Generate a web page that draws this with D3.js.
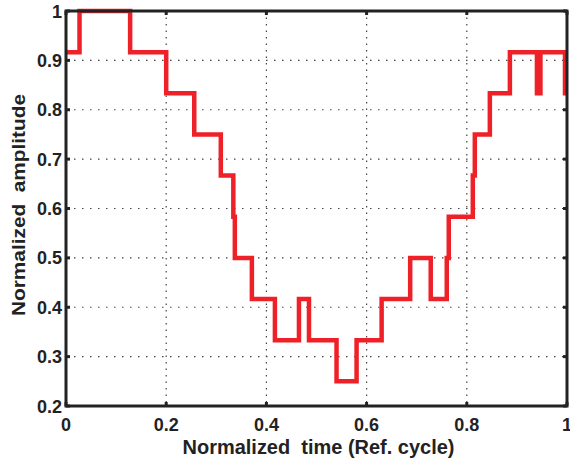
<!DOCTYPE html>
<html><head><meta charset="utf-8">
<script src="https://cdn.jsdelivr.net/npm/d3@7"></script>
<style>body{margin:0;background:#fff}</style>
</head><body>
<svg id="c" width="570" height="460"></svg>
<script>
const times = [0, 0.027, 0.128, 0.200, 0.256, 0.309, 0.334, 0.337, 0.371, 0.417, 0.465, 0.485, 0.540, 0.580, 0.630, 0.687, 0.728, 0.760, 0.764, 0.812, 0.816, 0.846, 0.886, 0.940, 0.947, 0.996, 1.0];
const amplitude = [0.9167, 1.0, 0.9167, 0.8333, 0.75, 0.6667, 0.5833, 0.5, 0.4167, 0.3333, 0.4167, 0.3333, 0.25, 0.3333, 0.4167, 0.5, 0.4167, 0.5, 0.5833, 0.6667, 0.75, 0.8333, 0.9167, 0.8333, 0.9167, 0.8333, 0.8333];
const xTicks = [0, 0.2, 0.4, 0.6, 0.8, 1];
const yTicks = [0.2, 0.3, 0.4, 0.5, 0.6, 0.7, 0.8, 0.9, 1];
const xTitle = "Normalized\u00a0 time (Ref. cycle)";
const yTitle = "Normalized\u00a0 amplitude";

const L = 66, R = 567, T = 11, B = 406;
const svg = d3.select("#c");
const x = d3.scaleLinear().domain([0, 1]).range([L, R]);
const y = d3.scaleLinear().domain([0.2, 1]).range([B, T]);
const fmt = d => d === 0 || d === 1 ? String(d) : d.toFixed(1);

// grid
const g = svg.append("g");
g.selectAll(".gx").data(xTicks.slice(1, -1)).join("line")
  .attr("x1", d => x(d)).attr("x2", d => x(d)).attr("y1", T).attr("y2", B)
  .attr("stroke", "#444").attr("stroke-width", 1.2).attr("stroke-dasharray", "1.5,5");
g.selectAll(".gy").data(yTicks.slice(1, -1)).join("line")
  .attr("y1", d => y(d)).attr("y2", d => y(d)).attr("x1", L).attr("x2", R)
  .attr("stroke", "#444").attr("stroke-width", 1.2).attr("stroke-dasharray", "1.5,6.5");

// ticks inward on all sides
const tl = 4;
xTicks.forEach(d => {
  g.append("line").attr("x1", x(d)).attr("x2", x(d)).attr("y1", B).attr("y2", B - tl).attr("stroke", "#222").attr("stroke-width", 3);
  g.append("line").attr("x1", x(d)).attr("x2", x(d)).attr("y1", T).attr("y2", T + tl).attr("stroke", "#222").attr("stroke-width", 3);
});
yTicks.forEach(d => {
  g.append("line").attr("y1", y(d)).attr("y2", y(d)).attr("x1", L).attr("x2", L + tl).attr("stroke", "#222").attr("stroke-width", 3);
  g.append("line").attr("y1", y(d)).attr("y2", y(d)).attr("x1", R).attr("x2", R - tl).attr("stroke", "#222").attr("stroke-width", 3);
});

// data line
const pts = times.map((t, i) => [t, amplitude[i]]);
svg.append("path").datum(pts)
  .attr("d", d3.line().x(d => x(d[0])).y(d => y(d[1])).curve(d3.curveStepAfter))
  .attr("fill", "none").attr("stroke", "#ee2128").attr("stroke-width", 4.5).attr("stroke-linejoin", "miter");

// frame
svg.append("rect").attr("x", L).attr("y", T).attr("width", R - L).attr("height", B - T)
  .attr("fill", "none").attr("stroke", "#222").attr("stroke-width", 3);

// tick labels
const font = "Liberation Sans, Arial, Helvetica, sans-serif";
svg.selectAll(".xl").data(xTicks).join("text")
  .attr("x", d => x(d)).attr("y", 431).attr("text-anchor", "middle")
  .attr("font-family", font).attr("font-weight", "bold").attr("font-size", 18).attr("fill", "#222")
  .text(fmt);
svg.selectAll(".yl").data(yTicks).join("text")
  .attr("x", L - 4).attr("y", d => y(d) + 6.5).attr("text-anchor", "end")
  .attr("font-family", font).attr("font-weight", "bold").attr("font-size", 18).attr("fill", "#222")
  .text(fmt);

svg.append("text").attr("x", 318.5).attr("y", 454).attr("text-anchor", "middle")
  .attr("font-family", font).attr("font-weight", "bold").attr("font-size", 19.5).attr("fill", "#222")
  .attr("textLength", 272).attr("lengthAdjust", "spacingAndGlyphs")
  .text(xTitle);
svg.append("text").attr("transform", `translate(25,205) rotate(-90)`).attr("text-anchor", "middle")
  .attr("font-family", font).attr("font-weight", "bold").attr("font-size", 19).attr("fill", "#222")
  .attr("textLength", 222).attr("lengthAdjust", "spacingAndGlyphs")
  .text(yTitle);
</script>
</body></html>
